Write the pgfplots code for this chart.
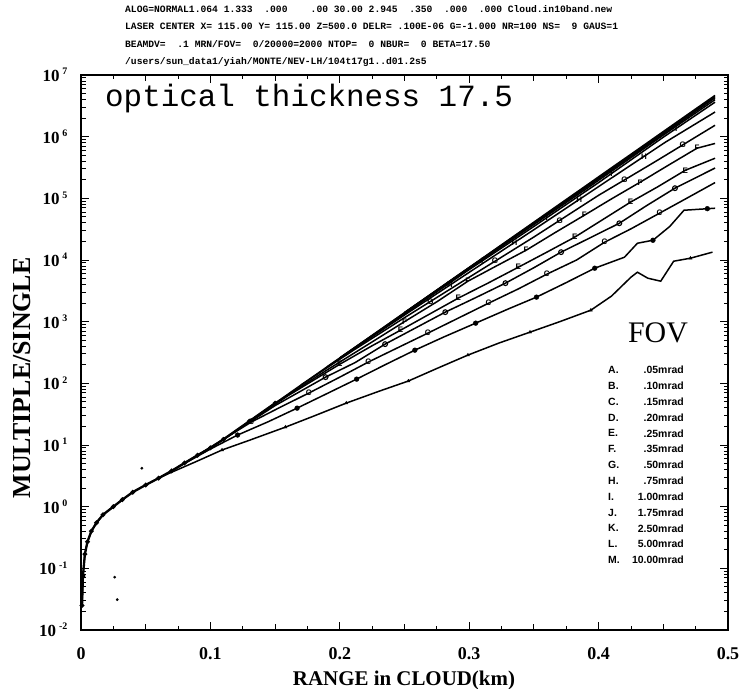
\documentclass[border=0pt]{standalone}
\usepackage{fontspec}
\setmainfont{Liberation Serif}
\newfontfamily\monofont{Liberation Mono}
\newfontfamily\sansfont{Liberation Sans}
\usepackage{pgfplots}
\pgfplotsset{compat=1.18}
\usetikzlibrary{calc}

% y tick label: "10" with a raised exponent
\newcommand\ylab[1]{10\kern3bp\raisebox{6.5bp}{\fontsize{10}{10}\selectfont\bfseries #1}}
% letter marker font
\newcommand\mk[1]{\fontsize{8}{8}\selectfont\sansfont\bfseries #1}

\begin{document}
\begin{tikzpicture}
\begin{axis}[
  scale only axis, width=647bp, height=555bp,
  xmin=0, xmax=0.5, ymin=1e-2, ymax=1e7,
  ymode=log, log basis y=10,
  axis line style={line width=1.5bp},
  every tick/.style={black, line width=0.9bp},
  tick align=inside,
  major tick length=8bp, minor tick length=4.5bp,
  xtick={0,0.1,0.2,0.3,0.4,0.5},
  xticklabels={0,0.1,0.2,0.3,0.4,0.5},
  minor xtick={0.025,0.075,0.125,0.175,0.225,0.275,0.325,0.375,0.425,0.475},
  extra x ticks={0.05,0.15,0.25,0.35,0.45},
  extra x tick labels={},
  extra x tick style={major tick length=6.5bp},
  ytick={1e-2,1e-1,1,10,100,1e3,1e4,1e5,1e6,1e7},
  yticklabels={\ylab{-2},\ylab{-1},\ylab{0},\ylab{1},\ylab{2},\ylab{3},\ylab{4},\ylab{5},\ylab{6},\ylab{7}},
  minor ytick={0.02,0.03,0.04,0.05,0.06,0.07,0.08,0.09,
               0.2,0.3,0.4,0.5,0.6,0.7,0.8,0.9,
               2,3,4,5,6,7,8,9,
               20,30,40,50,60,70,80,90,
               200,300,400,500,600,700,800,900,
               2000,3000,4000,5000,6000,7000,8000,9000,
               2e4,3e4,4e4,5e4,6e4,7e4,8e4,9e4,
               2e5,3e5,4e5,5e5,6e5,7e5,8e5,9e5,
               2e6,3e6,4e6,5e6,6e6,7e6,8e6,9e6},
  xticklabel style={font=\fontsize{18}{18}\selectfont\bfseries, yshift=-14bp},
  yticklabel style={font=\fontsize{17}{17}\selectfont\bfseries, xshift=-10bp},
  clip=false,
  curve/.style={black, solid, line width=1.5bp, mark=none},
]
\coordinate (ll) at (rel axis cs:0,0);
\coordinate (ur) at (rel axis cs:1,1);

% common branch shared by all FOVs (drawn heavy)
\addplot[black, line width=2.3bp, mark=*, mark size=1bp] coordinates {
 (0.0008,0.025)(0.0015,0.075)(0.003,0.17)(0.005,0.27)(0.008,0.40)(0.012,0.55)
 (0.017,0.74)(0.025,1.0)(0.032,1.3)(0.040,1.72)(0.050,2.25)(0.060,2.9)
 (0.070,3.8)(0.080,5.1)(0.090,6.8)(0.100,9.0)(0.11,12.3)(0.13,24.2)(0.15,47.6)};

% M: 10.00 mrad
\addplot[curve] coordinates {
 (0.0008,0.025)(0.0015,0.075)(0.003,0.17)(0.005,0.27)(0.008,0.40)(0.012,0.55)
 (0.017,0.74)(0.025,1.0)(0.032,1.3)(0.040,1.72)(0.050,2.25)(0.060,2.9)
 (0.070,3.8)(0.080,5.1)(0.090,6.8)(0.100,9.0)(0.11,12.3)(0.13,24.2)(0.15,47.6)
 (0.17,93.7)(0.19,184)(0.21,362)(0.23,711)(0.25,1400)(0.27,2750)(0.29,5410)
 (0.31,10600)(0.33,20900)(0.35,41100)(0.37,80900)(0.39,159000)(0.41,313000)
 (0.43,614000)(0.45,1210000)(0.47,2380000)(0.49,4670000)};
% L: 5.00 mrad
\addplot[curve] coordinates {(0.25,1400)(0.30,7550)(0.35,40000)(0.40,215000)(0.45,1160000)(0.49,4470000)};
% K: 2.50 mrad
\addplot[curve] coordinates {(0.25,1400)(0.32,14500)(0.38,106000)(0.44,790000)(0.49,4270000)};
% J: 1.75 mrad
\addplot[curve] coordinates {(0.20,258)(0.27,2700)(0.33,19500)(0.39,140000)(0.45,1060000)(0.49,3980000)};
% I: 1.00 mrad
\addplot[curve] coordinates {(0.20,258)(0.25,1330)(0.30,7000)(0.35,35000)(0.40,180000)(0.45,980000)(0.49,3630000)};
% H: 0.75 mrad
\addplot[curve] coordinates {(0.19,184)(0.25,1280)(0.30,6310)(0.35,31000)(0.40,155000)(0.4515,811000)(0.49,2510000)};
% G: 0.50 mrad
\addplot[curve] coordinates {(0.17,93.7)(0.21,338)(0.25,1160)(0.30,5250)(0.35,23600)(0.40,112000)(0.443,385000)(0.49,1530000)};
% F: 0.35 mrad
\addplot[curve] coordinates {(0.15,47.6)(0.19,164)(0.22,404)(0.25,1000)(0.275,2100)(0.299,4530)(0.32,7800)
 (0.344,14400)(0.366,27500)(0.389,53200)(0.41,98000)(0.432,182000)(0.454,345000)(0.476,649000)(0.49,776000)};
% E: 0.25 mrad
\addplot[curve] coordinates {(0.13,24.2)(0.16,63)(0.20,204)(0.225,407)(0.247,728)(0.27,1350)(0.2915,2404)
 (0.315,4270)(0.338,7640)(0.36,13400)(0.3815,23400)(0.403,44900)(0.4246,86500)(0.446,155000)(0.467,285000)(0.49,447000)};
% D: 0.20 mrad
\addplot[curve] coordinates {(0.11,12.3)(0.15,43.6)(0.189,126)(0.212,218)(0.235,432)(0.258,780)(0.2815,1426)
 (0.305,2450)(0.328,4210)(0.35,7500)(0.371,13400)(0.394,23200)(0.416,39400)(0.437,75900)(0.459,146000)(0.49,310000)};
% C: 0.15 mrad
\addplot[curve] coordinates {(0.09,6.8)(0.1315,23.5)(0.155,42)(0.176,69.4)(0.2,126)(0.222,221)(0.245,380)(0.268,651)
 (0.29,1100)(0.315,1995)(0.338,3400)(0.36,5890)(0.383,10000)(0.4046,19400)(0.425,32000)(0.447,57300)(0.468,100000)(0.49,180000)};
% B: 0.10 mrad
\addplot[curve] coordinates {(0.07,3.8)(0.08,5.0)(0.10,8.6)(0.121,14.5)(0.145,24)(0.167,39.6)(0.19,68)(0.213,117)
 (0.235,200)(0.258,345)(0.28,560)(0.305,946)(0.33,1600)(0.352,2500)(0.375,4300)(0.397,7360)(0.42,11100)
 (0.43,18700)(0.442,20900)(0.455,35000)(0.466,64100)(0.49,69100)};
% A: 0.05 mrad
\addplot[curve] coordinates {(0.06,2.9)(0.0685,3.5)(0.09,5.5)(0.109,8.3)(0.13,11.9)(0.158,19.5)(0.18,29.5)(0.205,47.8)
 (0.23,74)(0.253,109)(0.275,174)(0.299,287)(0.323,450)(0.347,676)(0.37,1000)(0.394,1535)(0.41,2600)
 (0.425,5260)(0.430,6340)(0.438,5070)(0.448,4530)(0.458,9550)(0.471,10700)(0.488,13400)};

% curve markers
\addplot[black, only marks, mark=triangle*, mark size=1.8bp] coordinates {
 (0.109,8.3)(0.158,19.5)(0.205,47.8)(0.253,109)(0.299,287)(0.347,676)(0.394,1535)(0.471,10700)};
\addplot[black, only marks, mark=*, mark size=2.4bp] coordinates {
 (0.121,14.5)(0.167,39.6)(0.213,117)(0.258,345)(0.305,946)(0.352,2500)(0.397,7360)(0.442,20900)(0.484,68000)};
\addplot[black, only marks, mark=text, text mark={\mk{C}}] coordinates {
 (0.1315,23.5)(0.176,69.4)(0.222,221)(0.268,651)(0.315,1995)(0.36,5890)(0.4046,19400)(0.447,57300)};
\addplot[black, only marks, mark=o, mark size=2.4bp, line width=1.1bp] coordinates {
 (0.189,126)(0.235,432)(0.2815,1426)(0.328,4210)(0.371,13400)(0.416,39400)(0.459,146000)};
\addplot[black, only marks, mark=text, text mark={\mk{E}}] coordinates {
 (0.2,204)(0.247,728)(0.2915,2404)(0.338,7640)(0.3815,23400)(0.4246,86500)(0.467,285000)};
\addplot[black, only marks, mark=text, text mark={\mk{F}}] coordinates {
 (0.25,1000)(0.299,4530)(0.344,14400)(0.389,53200)(0.432,182000)(0.476,649000)};
\addplot[black, only marks, mark=text, text mark={\mk{G}}] coordinates {
 (0.27,2120)(0.32,9580)(0.37,44000)(0.42,199000)(0.465,735000)};
\addplot[black, only marks, mark=text, text mark={\mk{H}}] coordinates {
 (0.285,3910)(0.335,19200)(0.385,95500)(0.435,478000)};
\addplot[black, only marks, mark=text, text mark={\mk{I}}] coordinates {
 (0.31,9660)(0.36,48500)(0.41,252000)(0.46,1360000)};

% isolated samples
\addplot[black, only marks, mark=*, mark size=1.2bp] coordinates {(0.026,0.072)(0.028,0.031)(0.047,4.2)};
\end{axis}

% run header
\begin{scope}[every node/.style={anchor=west, inner sep=0pt, font=\monofont\bfseries\fontsize{9.7}{9.7}\selectfont}]
\node at ($(ll)+(44bp,621bp)$) {ALOG=NORMAL1.064 1.333~ .000~~~ .00 30.00 2.945~ .350~ .000~ .000 Cloud.in10band.new};
\node at ($(ll)+(44bp,604bp)$) {LASER CENTER X= 115.00 Y= 115.00 Z=500.0 DELR= .100E-06 G=-1.000 NR=100 NS=~ 9 GAUS=1};
\node at ($(ll)+(44bp,586bp)$) {BEAMDV=~ .1 MRN/FOV=~ 0/20000=2000 NTOP=~ 0 NBUR=~ 0 BETA=17.50};
\node at ($(ll)+(44bp,568bp)$) {/users/sun\_data1/yiah/MONTE/NEV-LH/104t17g1..d01.2s5};
\end{scope}

% axis titles
\node[rotate=90, font=\fontsize{26}{26}\selectfont\bfseries] at ($(ll)+(-59bp,252bp)$) {MULTIPLE/SINGLE};
\node[font=\fontsize{21}{21}\selectfont\bfseries] at ($(ll)+(323bp,-50bp)$) {RANGE in CLOUD(km)};

% panel title
\node[anchor=base west, inner sep=0pt, font=\monofont\fontsize{31}{31}\selectfont] at ($(ll)+(24bp,523bp)$) {optical thickness 17.5};

% FOV key
\node[font=\fontsize{30}{30}\selectfont] at ($(ll)+(577bp,297bp)$) {FOV};
\foreach \k/\v [count=\i from 0] in {A/.05,B/.10,C/.15,D/.20,E/.25,F/.35,G/.50,H/.75,I/1.00,J/1.75,K/2.50,L/5.00,M/10.00} {
  \node[anchor=west, inner sep=0pt, font=\sansfont\bfseries\fontsize{10.5}{10.5}\selectfont] at ($(ll)+(527bp,260bp-15.83bp*\i)$) {\k.};
  \node[anchor=east, inner sep=0pt, font=\sansfont\bfseries\fontsize{10.5}{10.5}\selectfont] at ($(ll)+(603bp,260bp-15.83bp*\i)$) {\v mrad};
}

\pgfresetboundingbox
\path ($(ll)+(-81bp,-59bp)$) rectangle ($(ur)+(19bp,75bp)$);
\end{tikzpicture}
\end{document}
